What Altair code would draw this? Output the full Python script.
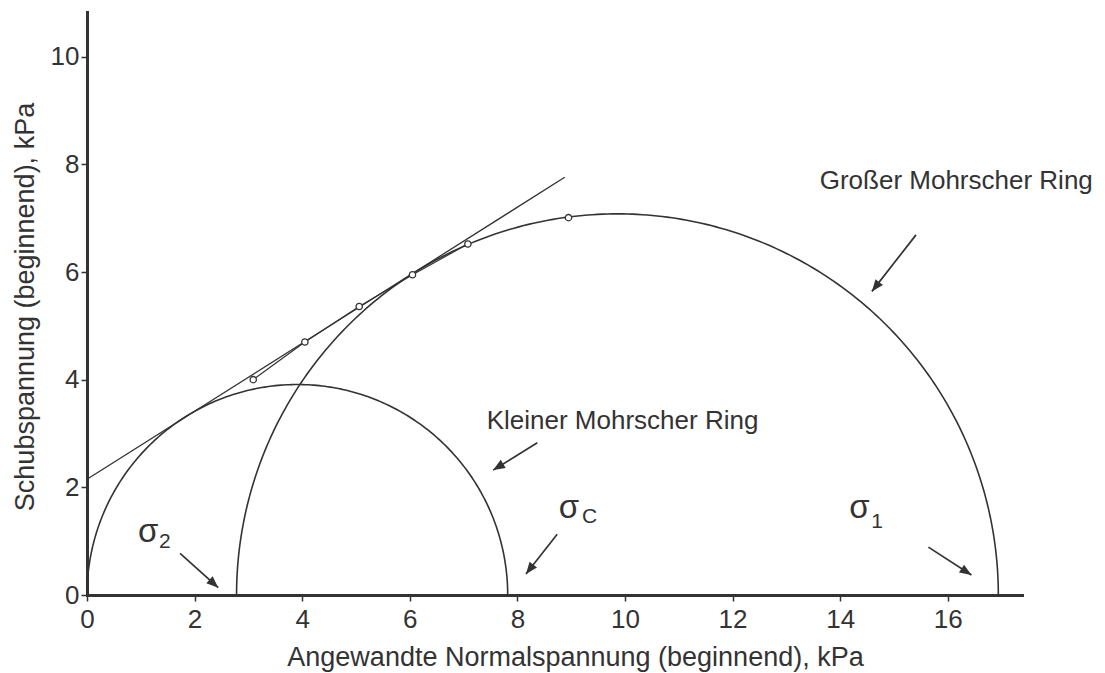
import altair as alt
import numpy as np
import pandas as pd

# ---------------- data ----------------
x_ticks = [0, 2, 4, 6, 8, 10, 12, 14, 16]
y_ticks = [0, 2, 4, 6, 8, 10]
x_max = 17.38
y_max = 10.83

# Mohr circles (left / right normal stress)
circle_names = ["klein", "gross"]
circle_left = [0.0, 2.78]
circle_right = [7.82, 16.94]

# envelope (tangent) line
tangent_x = [0.0, 8.88]
tangent_y = [2.15, 7.76]

# measured points
pt_x = [3.09, 4.05, 5.06, 6.05, 7.08, 8.95]
pt_y = [4.00, 4.70, 5.36, 5.95, 6.52, 7.01]
n_joined = 5

# text labels
label_text = ["Großer Mohrscher Ring", "Kleiner Mohrscher Ring"]
label_x = [13.62, 7.43]
label_y = [7.55, 3.08]

# sigma labels
sigma_sub = ["2", "C", "1"]
sigma_x = [0.95, 8.77, 14.17]
sigma_y = [0.985, 1.43, 1.43]
sub_x = [1.34, 9.2, 14.58]
sub_y = [0.87, 1.34, 1.25]

# arrows (start -> end)
arrow_x1 = [15.41, 8.37, 8.74, 1.73, 15.64]
arrow_y1 = [6.69, 2.83, 1.13, 0.775, 0.89]
arrow_x2 = [14.59, 7.55, 8.16, 2.44, 16.44]
arrow_y2 = [5.64, 2.32, 0.39, 0.136, 0.37]

# ---------------- tables ----------------
INK = "#333333"
FONT = "Liberation Sans"

rows = []
theta = np.linspace(0, np.pi, 241)
for name, a, b in zip(circle_names, circle_left, circle_right):
    c = (a + b) / 2
    r = (b - a) / 2
    for i, t in enumerate(theta):
        rows.append({"name": name, "i": i, "x": c + r * np.cos(t), "y": r * np.sin(t)})
circles = pd.DataFrame(rows)

tangent = pd.DataFrame({"x": tangent_x, "y": tangent_y, "i": range(len(tangent_x))})
points = pd.DataFrame({"x": pt_x, "y": pt_y, "i": range(len(pt_x))})
joined = points.iloc[:n_joined]
labels = pd.DataFrame({"t": label_text, "x": label_x, "y": label_y})
sig = pd.DataFrame({"t": ["σ"] * len(sigma_x), "x": sigma_x, "y": sigma_y})
subs = pd.DataFrame({"t": sigma_sub, "x": sub_x, "y": sub_y})
arrows = pd.DataFrame({"x": arrow_x1, "y": arrow_y1, "x2": arrow_x2, "y2": arrow_y2})
ang = np.degrees(np.arctan2(np.array(arrow_x2) - np.array(arrow_x1),
                            np.array(arrow_y2) - np.array(arrow_y1))) % 360
heads = pd.DataFrame({"x": arrow_x2, "y": arrow_y2, "ang": ang})

xs = alt.Scale(domain=[0, x_max], nice=False, zero=False)
ys = alt.Scale(domain=[0, y_max], nice=False, zero=False)

xaxis = alt.Axis(
    values=x_ticks, title="Angewandte Normalspannung (beginnend), kPa",
    titleX=488, titleY=70, titleBaseline="alphabetic", titleAnchor="start",
    titleAlign="center", tickSize=6, labelPadding=5)
yaxis = alt.Axis(
    values=y_ticks, title="Schubspannung (beginnend), kPa",
    titleX=-53.5, titleY=294.5, titleAngle=270, titleBaseline="alphabetic",
    titleAlign="center", tickSize=6, labelPadding=2)
X = alt.X("x:Q", scale=xs, axis=xaxis)
Y = alt.Y("y:Q", scale=ys, axis=yaxis)

circ = alt.Chart(circles).mark_line(color=INK, strokeWidth=1.6).encode(
    x=X, y=Y, detail="name:N", order="i:Q")
tan = alt.Chart(tangent).mark_line(color=INK, strokeWidth=1.3).encode(
    x=X, y=Y, order="i:Q")
poly = alt.Chart(joined).mark_line(color=INK, strokeWidth=1.2).encode(
    x=X, y=Y, order="i:Q")
pts = alt.Chart(points).mark_circle(fill="white", stroke=INK, strokeWidth=1.3,
                                     size=40, opacity=1).encode(x=X, y=Y)
txt = alt.Chart(labels).mark_text(font=FONT, fontSize=26, color=INK, align="left",
                                  baseline="alphabetic").encode(x=X, y=Y, text="t:N")
sigt = alt.Chart(sig).mark_text(font=FONT, fontSize=33, color=INK, align="left",
                                baseline="alphabetic").encode(x=X, y=Y, text="t:N")
subt = alt.Chart(subs).mark_text(font=FONT, fontSize=21, color=INK, align="left",
                                 baseline="alphabetic").encode(x=X, y=Y, text="t:N")
arr = alt.Chart(arrows).mark_rule(color=INK, strokeWidth=1.7).encode(
    x=X, y=Y, x2="x2:Q", y2="y2:Q")
head = alt.Chart(heads).mark_point(shape="M0,0L-0.4,1L0.4,1Z", filled=True,
                                   color=INK, opacity=1, size=560).encode(
    x=X, y=Y, angle=alt.Angle("ang:Q", scale=None))

chart = alt.layer(circ, tan, poly, pts, txt, sigt, subt, arr, head).properties(
    width=935, height=583,
    autosize=alt.AutoSizeParams(type="none"),
    padding={"left": 79, "top": 4, "right": 75, "bottom": 77},
).configure_view(stroke=None).configure_axis(
    grid=False, domainColor=INK, domainWidth=3, domainCap="square",
    tickColor=INK, tickWidth=1.5, labelFont=FONT, labelFontSize=26,
    labelColor=INK, labelFlush=False, labelOverlap=False,
    titleFont=FONT, titleFontSize=27, titleFontWeight="normal", titleColor=INK,
)

chart.save("out.html", embed_options={"renderer": "svg", "actions": False})
